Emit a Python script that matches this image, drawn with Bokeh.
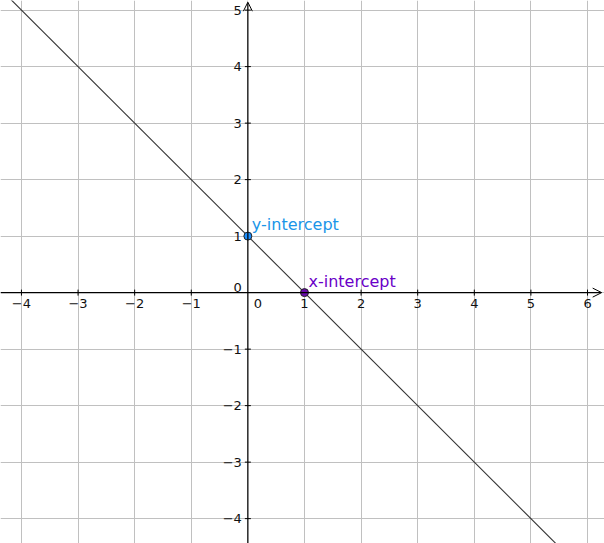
from bokeh.plotting import figure
from bokeh.models import SingleIntervalTicker, Arrow, OpenHead, ColumnDataSource, Range1d
from bokeh.embed import file_html
from bokeh.resources import INLINE
from bokeh.core.properties import value
import math

# ---- data ----
slope = -1.0
intercept = 1.0
x_ticks = [-4, -3, -2, -1, 1, 2, 3, 4, 5, 6]
y_ticks = [-4, -3, -2, -1, 1, 2, 3, 4, 5]
point_x = [0, 1]
point_y = [1, 0]
point_labels = ["y-intercept", "x-intercept"]
point_fill = ["#1e90ff", "#6a0dad"]
label_colors = ["#1a95e8", "#6a00c8"]

x_min, x_max = -4.37, 6.30
y_min, y_max = -4.44, 5.17

W, H = 604, 543
p = figure(width=W, height=H, x_range=Range1d(x_min, x_max), y_range=Range1d(y_min, y_max),
           output_backend="svg", toolbar_location=None, min_border=0)
p.outline_line_color = None
p.background_fill_color = "white"
p.axis.visible = False
p.xgrid.ticker = SingleIntervalTicker(interval=1)
p.ygrid.ticker = SingleIntervalTicker(interval=1)
p.grid.grid_line_color = "#c0c0c0"
p.grid.grid_line_width = 1

# axes with arrowheads
p.add_layout(Arrow(end=OpenHead(size=9, line_width=1, line_color="black"),
                   x_start=x_min, y_start=0, x_end=x_max - 0.05, y_end=0,
                   line_color="black", line_width=1.2))
p.add_layout(Arrow(end=OpenHead(size=9, line_width=1, line_color="black"),
                   x_start=0, y_start=y_min, x_end=0, y_end=y_max - 0.03,
                   line_color="black", line_width=1.2))

# tick marks
p.scatter(x=x_ticks, y=[0]*len(x_ticks), marker="dash", angle=math.pi/2, size=6,
          line_color="black", line_width=1)
p.scatter(x=[0]*len(y_ticks), y=y_ticks, marker="dash", size=6,
          line_color="black", line_width=1)

tick_font = value("DejaVu Sans")
minus = "\u2212"
def fmt(v):
    return (minus + str(-v)) if v < 0 else str(v)

p.text(x=x_ticks, y=[0]*len(x_ticks), text=[fmt(v) for v in x_ticks], text_align="center",
       text_baseline="top", y_offset=6, text_font=tick_font, text_font_size="13px", text_color="#111111")
p.text(x=[0]*len(y_ticks), y=y_ticks, text=[fmt(v) for v in y_ticks], text_align="right",
       text_baseline="middle", x_offset=-6, text_font=tick_font, text_font_size="13px", text_color="#111111")
p.text(x=[0], y=[0], text=["0"], text_align="center", text_baseline="top", x_offset=10, y_offset=6,
       text_font=tick_font, text_font_size="13px", text_color="#111111")
p.text(x=[0], y=[0], text=["0"], text_align="right", text_baseline="bottom", x_offset=-6, y_offset=-1,
       text_font=tick_font, text_font_size="13px", text_color="#111111")

# the line y = slope*x + intercept
lx = [x_min - 1, x_max + 1]
ly = [slope * v + intercept for v in lx]
p.line(lx, ly, line_color="#333333", line_width=1.1)

# intercept points and labels
src = ColumnDataSource(dict(x=point_x, y=point_y, label=point_labels, fill=point_fill, lc=label_colors))
p.scatter("x", "y", source=src, size=8, fill_color="fill", line_color="#222222", line_width=1)
p.text("x", "y", text="label", source=src, text_color="lc", text_font=tick_font, text_font_size="16px",
       text_baseline="bottom", x_offset=4, y_offset=-2)

open("out.html", "w").write(file_html(p, INLINE))
